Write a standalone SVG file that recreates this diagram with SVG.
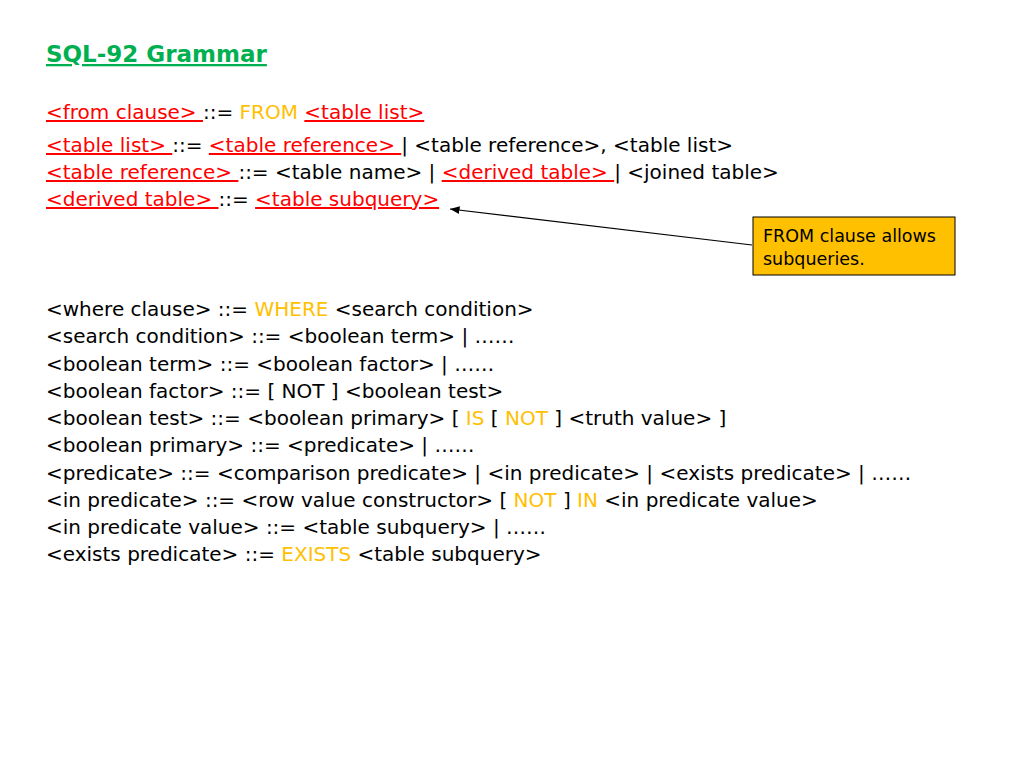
<svg xmlns="http://www.w3.org/2000/svg" width="1024" height="768" viewBox="0 0 1024 768">
<defs>
<style>
text{font-family:"DejaVu Sans","Liberation Sans",sans-serif;font-size:20px;fill:#000}
.r{fill:#FF0000;text-decoration:underline}
.y{fill:#FFC000}
.t{font-size:23px;font-weight:bold;fill:#00B050;text-decoration:underline}
.c{font-size:17.5px}
</style>
<marker id="a" viewBox="0 0 10 10" refX="10" refY="5" markerWidth="8" markerHeight="8" orient="auto"><path d="M0,1 L10,5 L0,9 z" fill="#000"/></marker>
</defs>
<rect width="1024" height="768" fill="#fff"/>
<g id="title"><text class="t" x="46" y="62">SQL-92 Grammar</text></g>
<g id="from">
<text x="46" y="119"><tspan class="r">&lt;from clause&gt; </tspan>::= <tspan class="y">FROM</tspan> <tspan class="r">&lt;table list&gt;</tspan></text>
<text x="46" y="152"><tspan class="r">&lt;table list&gt; </tspan>::= <tspan class="r">&lt;table reference&gt; </tspan>| &lt;table reference&gt;, &lt;table list&gt;</text>
<text x="46" y="179"><tspan class="r">&lt;table reference&gt; </tspan>::= &lt;table name&gt; | <tspan class="r">&lt;derived table&gt; </tspan>| &lt;joined table&gt;</text>
<text x="46" y="206"><tspan class="r">&lt;derived table&gt; </tspan>::= <tspan class="r">&lt;table subquery&gt;</tspan></text>
</g>
<g id="where">
<text x="46" y="316">&lt;where clause&gt; ::= <tspan class="y">WHERE</tspan> &lt;search condition&gt;</text>
<text x="46" y="343">&lt;search condition&gt; ::= &lt;boolean term&gt; | ……</text>
<text x="46" y="371">&lt;boolean term&gt; ::= &lt;boolean factor&gt; | ……</text>
<text x="46" y="398">&lt;boolean factor&gt; ::= [ NOT ] &lt;boolean test&gt;</text>
<text x="46" y="425">&lt;boolean test&gt; ::= &lt;boolean primary&gt; [ <tspan class="y">IS</tspan> [ <tspan class="y">NOT</tspan> ] &lt;truth value&gt; ]</text>
<text x="46" y="452">&lt;boolean primary&gt; ::= &lt;predicate&gt; | ……</text>
<text x="46" y="480">&lt;predicate&gt; ::= &lt;comparison predicate&gt; | &lt;in predicate&gt; | &lt;exists predicate&gt; | ……</text>
<text x="46" y="507">&lt;in predicate&gt; ::= &lt;row value constructor&gt; [ <tspan class="y">NOT</tspan> ] <tspan class="y">IN</tspan> &lt;in predicate value&gt;</text>
<text x="46" y="534">&lt;in predicate value&gt; ::= &lt;table subquery&gt; | ……</text>
<text x="46" y="561">&lt;exists predicate&gt; ::= <tspan class="y">EXISTS</tspan> &lt;table subquery&gt;</text>
</g>
<g id="callout">
<rect x="753" y="217" width="202" height="58" fill="#FFC000" stroke="#000" stroke-width="1"/>
<text class="c" x="763" y="242">FROM clause allows</text>
<text class="c" x="763" y="265">subqueries.</text>
</g>
<g id="connectors">
<line x1="752" y1="245" x2="450" y2="209" stroke="#000" stroke-width="1.2" marker-end="url(#a)"/>
</g>
</svg>
